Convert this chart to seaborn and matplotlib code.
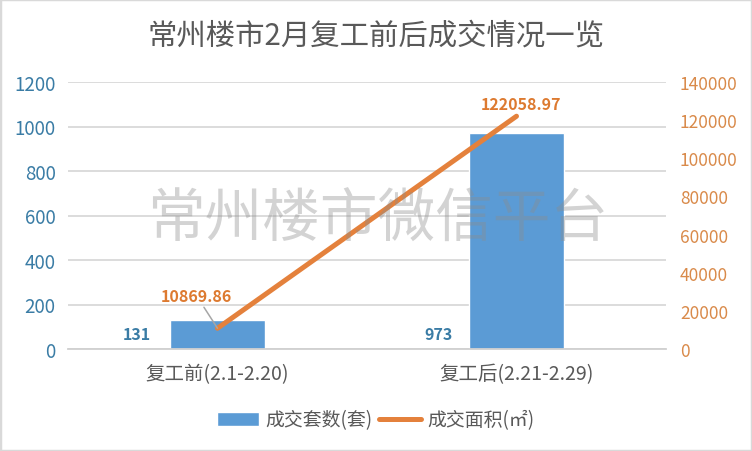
import matplotlib
matplotlib.use("Agg")
import matplotlib.pyplot as plt
import pandas as pd
import seaborn as sns
from matplotlib.lines import Line2D
from matplotlib.patches import Patch, Rectangle

# Data
categories = ["复工前(2.1-2.20)", "复工后(2.21-2.29)"]
units_sold = [131, 973]
area_sold = [10869.86, 122058.97]
left_ticks = [0, 200, 400, 600, 800, 1000, 1200]
right_ticks = [0, 20000, 40000, 60000, 80000, 100000, 120000, 140000]

BLUE = "#5b9bd5"
ORANGE = "#e4813c"
LEFT_TEXT = "#3a7ca5"
RIGHT_TEXT = "#d98a4a"
LABEL_ORANGE = "#dd7a30"
GREY = "#595959"

sns.set_theme(style="white")
plt.rcParams["font.family"] = ["Noto Sans CJK SC", "DejaVu Sans"]

df = pd.DataFrame({"category": categories, "units": units_sold, "area": area_sold})

fig = plt.figure(figsize=(7.52, 4.52), dpi=100)
ax = fig.add_axes([68 / 752, 1 - 350 / 452, (666 - 68) / 752, (350 - 83) / 452])

sns.barplot(data=df, x="category", y="units", color=BLUE, saturation=1, width=0.315, ax=ax)
ax.set_xlim(-0.5, 1.5)
ax.set_ylim(0, 1200)
ax.set_yticks(left_ticks)
ax.set_xlabel("")
ax.set_ylabel("")
ax.yaxis.grid(True, color="#d9d9d9", linewidth=1.3)
ax.set_axisbelow(True)
ax.tick_params(axis="y", labelsize=13.5, labelcolor=LEFT_TEXT, length=0, pad=9)
ax.tick_params(axis="x", labelsize=14, labelcolor=GREY, length=0, pad=10)
for side in ["top", "left", "right"]:
    ax.spines[side].set_visible(False)
ax.spines["bottom"].set_color("#d0d0d0")
ax.spines["bottom"].set_linewidth(1.3)

ax2 = ax.twinx()
sns.lineplot(data=df, x="category", y="area", color=ORANGE, linewidth=3.6, ax=ax2, legend=False)
ax2.set_ylim(0, 140000)
ax2.set_yticks(right_ticks)
ax2.set_xlabel("")
ax2.set_ylabel("")
ax2.grid(False)
ax2.tick_params(axis="y", labelsize=12.5, labelcolor=RIGHT_TEXT, length=0, pad=10)
for side in ["top", "left", "bottom", "right"]:
    ax2.spines[side].set_visible(False)

# Bar value labels, sitting left of the bars
ax.annotate(f"{units_sold[0]}", (0, 0), xytext=(-58, 5), textcoords="offset points",
            color=LEFT_TEXT, fontsize=11.5, fontweight="bold", ha="center", va="bottom")
ax.annotate(f"{units_sold[1]}", (1, 0), xytext=(-56, 5), textcoords="offset points",
            color=LEFT_TEXT, fontsize=11.5, fontweight="bold", ha="center", va="bottom")

# Line value labels
ax2.annotate(f"{area_sold[0]:.2f}", (0, area_sold[0]), xytext=(-15, 17.5), textcoords="offset points",
             color=LABEL_ORANGE, fontsize=11.5, fontweight="bold", ha="center", va="bottom",
             arrowprops=dict(arrowstyle="-", color="#a6a6a6", linewidth=1.1, shrinkA=0, shrinkB=0))
ax2.annotate(f"{area_sold[1]:.2f}", (1, area_sold[1]), xytext=(3, 3), textcoords="offset points",
             color=LABEL_ORANGE, fontsize=11.5, fontweight="bold", ha="center", va="bottom")

fig.text(376 / 752, 1 - 36 / 452, "常州楼市2月复工前后成交情况一览", color=GREY, fontsize=21.2, ha="center", va="center")

# Watermark
fig.text(378 / 752, 1 - 221 / 452, "常州楼市微信平台", color="#8c8c8c", alpha=0.38, fontsize=41.5,
         fontweight="light", ha="center", va="center", zorder=10)

handles = [Patch(facecolor=BLUE), Line2D([0], [0], color=ORANGE, linewidth=3.6)]
fig.legend(handles, ["成交套数(套)", "成交面积(㎡)"], loc="center", bbox_to_anchor=(376 / 752, 1 - 421 / 452),
           ncol=2, frameon=False, fontsize=13.6, labelcolor=GREY, handlelength=2.2, columnspacing=0.35, handletextpad=0.35)

# Thin frame round the picture
fig.add_artist(Rectangle((0, 0), 1, 1, transform=fig.transFigure, fill=False, edgecolor="#d9d9d9", linewidth=2.5))

fig.savefig("out.png", dpi=100)
